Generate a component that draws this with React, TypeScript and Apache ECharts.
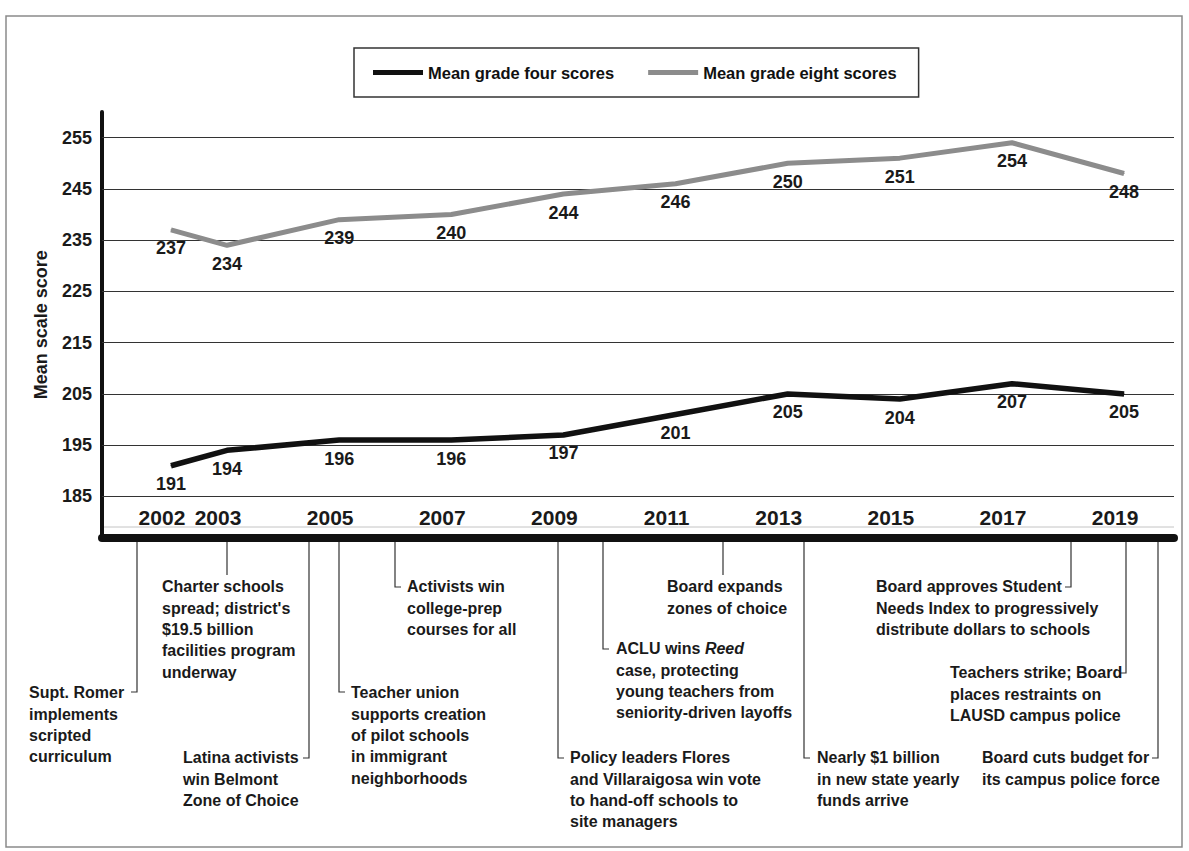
import React, { useEffect, useRef } from "react";
import * as echarts from "echarts";

const years = [2002, 2003, 2005, 2007, 2009, 2011, 2013, 2015, 2017, 2019];
const grade4 = [191, 194, 196, 196, 197, 201, 205, 204, 207, 205];
const grade8 = [237, 234, 239, 240, 244, 246, 250, 251, 254, 248];
const yTicks = [185, 195, 205, 215, 225, 235, 245, 255];
const seriesNames = ["Mean grade four scores", "Mean grade eight scores"];
const yTitle = "Mean scale score";

const eventTexts = [
  "Supt. Romer\nimplements\nscripted\ncurriculum",
  "Charter schools\nspread; district's\n$19.5 billion\nfacilities program\nunderway",
  "Latina activists\nwin Belmont\nZone of Choice",
  "Teacher union\nsupports creation\nof pilot schools\nin immigrant\nneighborhoods",
  "Activists win\ncollege-prep\ncourses for all",
  "Policy leaders Flores\nand Villaraigosa win vote\nto hand-off schools to\nsite managers",
  "ACLU wins {i|Reed}\ncase, protecting\nyoung teachers from\nseniority-driven layoffs",
  "Board expands\nzones of choice",
  "Nearly $1 billion\nin new state yearly\nfunds arrive",
  "Board approves Student\nNeeds Index to progressively\ndistribute dollars to schools",
  "Teachers strike; Board\nplaces restraints on\nLAUSD campus police",
  "Board cuts budget for\nits campus police force",
];

// layout of annotations: [leaderX, leaderEndY, tickEndX, textLeft, firstLineCenterY]
const eventLayout = [
  [137, 692, 131, 29, 693],
  [227, 575, 227, 162, 587],
  [309, 758, 303, 183, 758],
  [339, 692, 345, 351, 693],
  [395, 587, 401, 407, 587],
  [558, 758, 564, 570, 758],
  [603, 649, 609, 616, 649],
  [723, 575, 723, 667, 587],
  [804, 758, 810, 817, 758],
  [1071, 587, 1065, 876, 587],
  [1126, 673, 1120, 950, 673],
  [1158, 758, 1152, 982, 758],
];

const FONT = "'Liberation Sans', Arial, sans-serif";
const LH = 21.3;

export default function App() {
  const ref = useRef<HTMLDivElement>(null);
  useEffect(() => {
    if (!ref.current) return;
    const chart = echarts.init(ref.current, null, { renderer: "svg" });

    const graphics: any[] = [
      {
        type: "rect",
        shape: { x: 6, y: 16, width: 1176, height: 831 },
        style: { fill: null, stroke: "#8a8a8a", lineWidth: 1.5 },
        z: 0,
      },
      {
        type: "line",
        shape: { x1: 104, y1: 527, x2: 1174, y2: 527 },
        style: { stroke: "#c4c4c4", lineWidth: 1 },
      },
    ];
    eventTexts.forEach((t, i) => {
      const [lx, ly, tx, textX, cy] = eventLayout[i];
      graphics.push({
        type: "polyline",
        shape: { points: [[lx, 542], [lx, ly], [tx, ly]] },
        style: { stroke: "#333", lineWidth: 1.2, fill: null },
      });
      graphics.push({
        type: "text",
        x: textX,
        y: cy - LH / 2,
        style: {
          text: t,
          fill: "#1a1a1a",
          fontSize: 16,
          fontWeight: "bold",
          fontFamily: FONT,
          lineHeight: LH,
          align: "left",
          verticalAlign: "top",
          rich: {
            i: {
              fontStyle: "italic",
              fontWeight: "bold",
              fontSize: 16,
              fontFamily: FONT,
              lineHeight: LH,
              fill: "#1a1a1a",
            },
          },
        },
      });
    });

    const labelStyle = {
      show: true,
      position: "bottom",
      distance: 9,
      fontSize: 18,
      fontWeight: "bold",
      fontFamily: FONT,
      color: "#1a1a1a",
    };

    chart.setOption({
      animation: false,
      backgroundColor: "#ffffff",
      textStyle: { fontFamily: FONT },
      legend: {
        left: 354,
        top: 48,
        orient: "horizontal",
        padding: [16, 22, 16, 19],
        itemGap: 34,
        itemWidth: 50,
        itemHeight: 5,
        icon: "rect",
        borderColor: "#333",
        borderWidth: 1.5,
        textStyle: {
          fontSize: 16.5,
          fontWeight: "bold",
          color: "#111",
          fontFamily: FONT,
          padding: [3, 0, 3, 0],
        },
        data: seriesNames,
      },
      grid: {
        left: 102,
        top: 112,
        width: 1072,
        height: 425.5,
        containLabel: false,
        outerBoundsMode: "none",
      },
      xAxis: {
        type: "value",
        min: 2000.77,
        max: 2019.89,
        axisLine: { show: true, lineStyle: { color: "#111", width: 8 } },
        axisTick: { show: false },
        splitLine: { show: false },
        axisLabel: {
          customValues: years,
          inside: true,
          margin: 10,
          padding: [0, 18, 0, 0],
          fontSize: 21,
          fontWeight: "bold",
          fontFamily: FONT,
          color: "#1a1a1a",
          formatter: (v: number) => String(v),
        },
      },
      yAxis: {
        type: "value",
        min: 177,
        max: 260,
        name: yTitle,
        nameLocation: "middle",
        nameGap: 52,
        nameTextStyle: { fontSize: 18, fontWeight: "bold", color: "#1a1a1a", fontFamily: FONT },
        axisLine: { show: true, lineStyle: { color: "#111", width: 4 } },
        axisTick: { show: false },
        splitLine: { show: false },
        axisLabel: {
          customValues: yTicks,
          margin: 10,
          fontSize: 18,
          fontWeight: "bold",
          fontFamily: FONT,
          color: "#1a1a1a",
        },
      },
      series: [
        {
          name: seriesNames[0],
          type: "line",
          data: years.map((y, i) => [y, grade4[i]]),
          symbol: "circle",
          symbolSize: 1,
          showSymbol: true,
          lineStyle: { color: "#111", width: 5.5 },
          itemStyle: { color: "#111" },
          label: labelStyle,
          z: 3,
          markLine: {
            silent: true,
            symbol: "none",
            label: { show: false },
            lineStyle: { color: "#333", width: 1, type: "solid" },
            data: yTicks.map((v) => ({ yAxis: v })),
            z: 1,
          },
        },
        {
          name: seriesNames[1],
          type: "line",
          data: years.map((y, i) => [y, grade8[i]]),
          symbol: "circle",
          symbolSize: 1,
          showSymbol: true,
          lineStyle: { color: "#8c8c8c", width: 5 },
          itemStyle: { color: "#8c8c8c" },
          label: labelStyle,
          z: 3,
        },
      ],
      graphic: graphics,
    });
    return () => chart.dispose();
  }, []);
  return (
    <div
      ref={ref}
      style={{ position: "absolute", left: 0, top: 0, width: 1189, height: 851, background: "#fff" }}
    />
  );
}
